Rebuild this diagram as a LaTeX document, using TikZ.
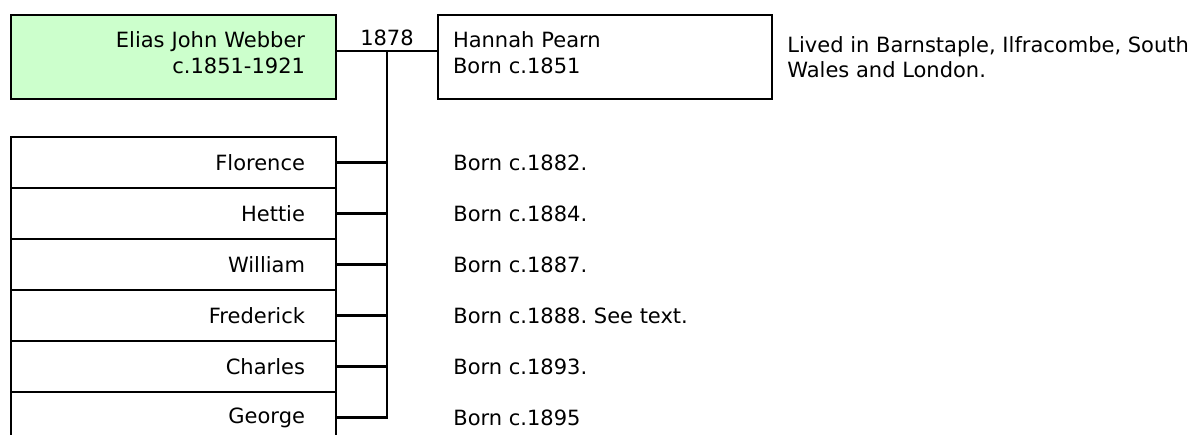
\documentclass[tikz,border=0pt]{standalone}
\usepackage{fontspec}
\setmainfont{DejaVu Sans}
\usetikzlibrary{positioning,calc}
\definecolor{treeGreenFill}{RGB}{204,255,204}
\frenchspacing

\begin{document}
\begin{tikzpicture}[
      x=0.5pt, y=-0.5pt,
      every node/.style={font=\fontsize{10.5}{12.7}\selectfont},
      personbox/.style={rectangle, draw, very thick, outer sep=0pt,
        minimum width=162.5pt, minimum height=42pt, text width=131.5pt,
        inner xsep=15.5pt, align=right},
      headbox/.style={personbox, fill=treeGreenFill, text depth=17pt},
      spousebox/.style={rectangle, draw, very thick, outer sep=0pt,
        minimum width=167pt, minimum height=42pt, text width=152pt,
        inner xsep=7.5pt, align=left, text depth=17pt},
      childbox/.style={personbox, minimum height=25.5pt},
      note/.style={inner sep=0pt, align=left, anchor=west},
      link/.style={very thick},
      year/.style={above, inner sep=2pt},
    ]
    \path[use as bounding box, clip] (0,0) rectangle (1202,434);

    % ---- Parents ----
    \node[headbox] (elias) at (173.5,57) {Elias John Webber\\ c.1851-1921};
    \node[spousebox, right=51pt of elias] (hannah) {Hannah Pearn\\ Born c.1851};
    \node[note, right=7.5pt of hannah] (lived)
      {Lived in Barnstaple, Ilfracombe, South\\ Wales and London.};

    % ---- Children ----
    \node[childbox, below=19pt of elias] (florence) {Florence};
    \node[childbox, below=0pt of florence] (hettie) {Hettie};
    \node[childbox, below=0pt of hettie] (william) {William};
    \node[childbox, below=0pt of william] (frederick) {Frederick};
    \node[childbox, below=0pt of frederick] (charles) {Charles};
    \node[childbox, below=0pt of charles] (george) {George};

    \node[note, right=58.5pt of florence] (bflorence) {Born c.1882.};
    \node[note, right=58.5pt of hettie] (bhettie) {Born c.1884.};
    \node[note, right=58.5pt of william] (bwilliam) {Born c.1887.};
    \node[note, right=58.5pt of frederick] (bfrederick) {Born c.1888. See text.};
    \node[note, right=58.5pt of charles] (bcharles) {Born c.1893.};
    \node[note, right=58.5pt of george] (bgeorge) {Born c.1895};

    % ---- Lines ----
    \coordinate (wed) at ($(elias.east)!0.5!(hannah.west) + (0,-6)$);
    \draw[link] (elias.east |- wed) -- node[year] {1878} (hannah.west |- wed);
    \draw[link] (wed) |- (george.east);
    \draw[link] (florence.east) -- (florence.east -| wed);
    \draw[link] (hettie.east) -- (hettie.east -| wed);
    \draw[link] (william.east) -- (william.east -| wed);
    \draw[link] (frederick.east) -- (frederick.east -| wed);
    \draw[link] (charles.east) -- (charles.east -| wed);
  \end{tikzpicture}
\end{document}
